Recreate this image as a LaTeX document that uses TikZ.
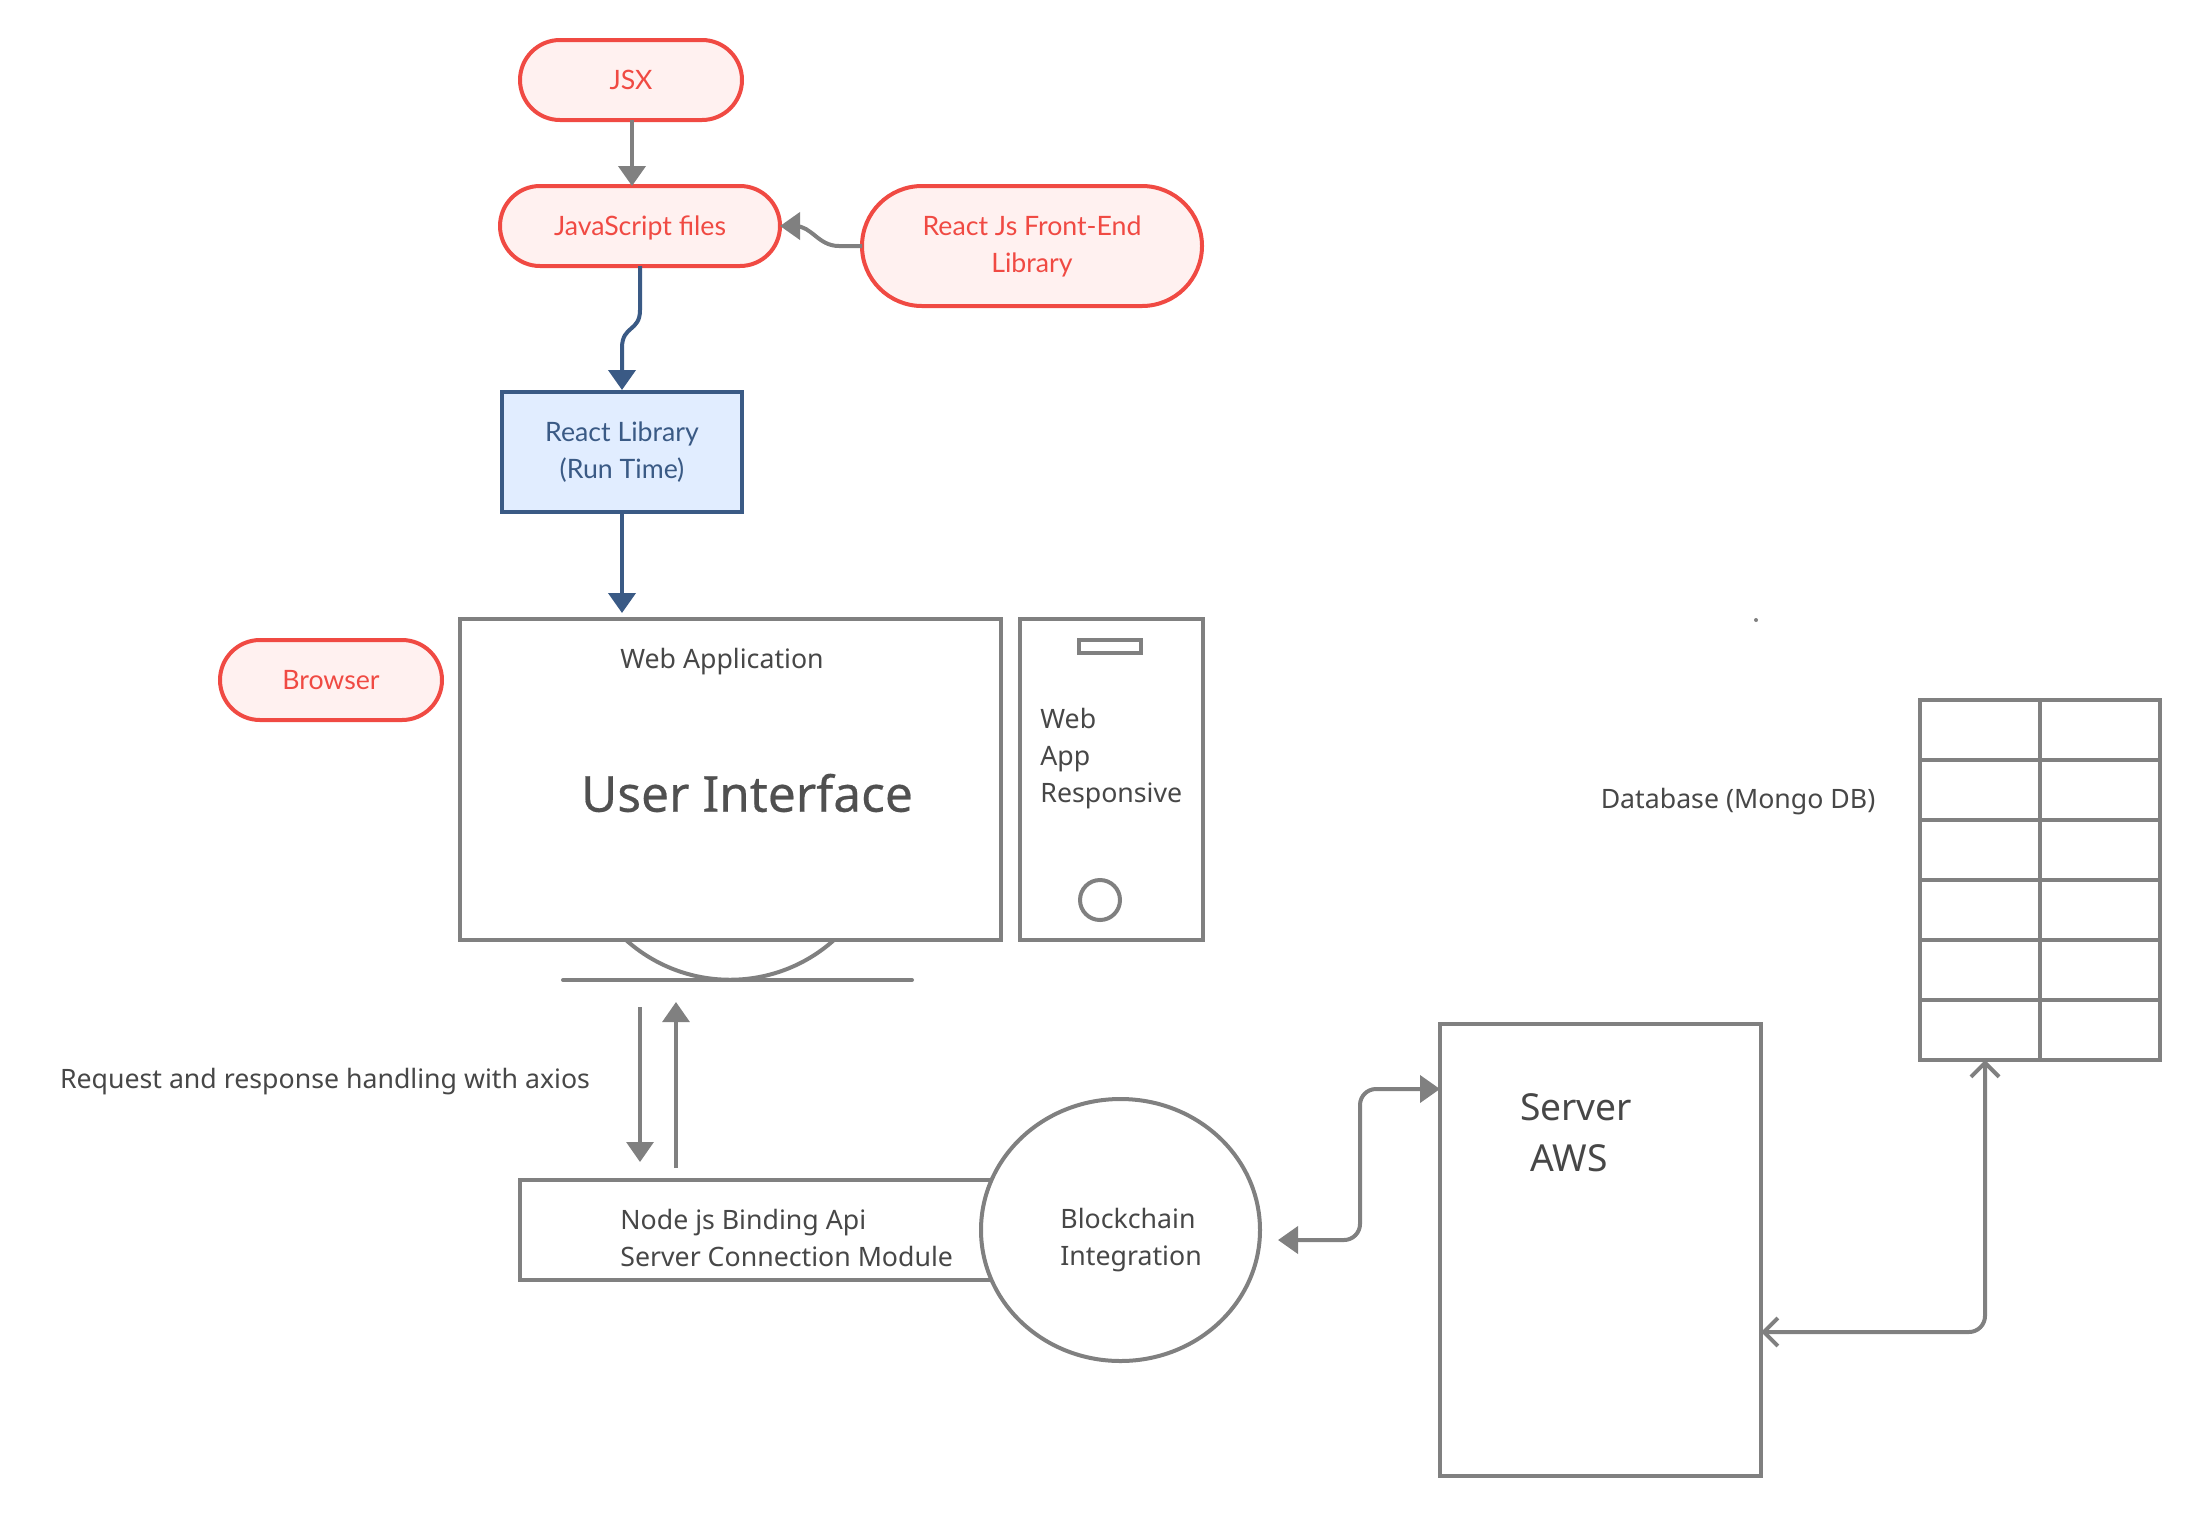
\documentclass[tikz,border=0pt]{standalone}
\usepackage{fontspec}
\setmainfont{Noto Sans}
\newfontfamily\shapefont{Lato}
\usetikzlibrary{arrows.meta, shapes.geometric}
\definecolor{redline}{HTML}{F04A43}
\definecolor{redfill}{HTML}{FFF1F0}
\definecolor{blueline}{HTML}{3A5A85}
\definecolor{bluefill}{HTML}{E1EDFF}
\definecolor{greyline}{HTML}{808080}
\definecolor{greytext}{HTML}{474747}

\begin{document}
\begin{tikzpicture}[x=0.5pt, y=-0.5pt,
					>={Triangle[length=10pt, width=13.5pt]},
					font=\fontsize{13.35}{18.5}\selectfont, text=greytext,
					pill/.style={draw=redline, fill=redfill, text=redline, font=\shapefont\fontsize{13.35}{18.5}\selectfont, line width=2pt, rounded corners=#1, align=center, inner sep=0pt, outer sep=0pt},
					oneline/.style={text height=9.5pt, text depth=0pt},
					blockbox/.style={draw=greyline, fill=white, line width=2pt, inner sep=0pt, outer sep=0pt, align=center},
					greyarrow/.style={draw=greyline, line width=2pt, ->},
					bluearrow/.style={draw=blueline, line width=2pt, ->},
					openarrow/.style={draw=greyline, line width=2pt, rounded corners=8pt, {Straight Barb[length=7pt, width=14pt]}-{Straight Barb[length=7pt, width=14pt]}},
					caption/.style={inner sep=0pt, align=left}]
					\useasboundingbox (0,0) rectangle (2201,1516);
					% Front-end nodes
					\node[pill=20pt, oneline, minimum width=111pt, minimum height=40pt] (jsx) at (631,80) {JSX};
					\node[pill=20pt, oneline, minimum width=140pt, minimum height=40pt] (jsfiles) at (640,226) {JavaScript files};
					\node[pill=30pt, minimum width=170pt, minimum height=60pt] (reactjs) at (1032,246) {React Js Front-End\\Library};
					\node[draw=blueline, fill=bluefill, text=blueline, font=\shapefont\fontsize{13.35}{18.5}\selectfont, line width=2pt, inner sep=0pt, align=center, minimum width=120pt, minimum height=60pt] (library) at (622,452) {React Library\\(Run Time)};
					\node[pill=20pt, oneline, minimum width=111pt, minimum height=40pt] (browser) at (331,680) {Browser};
					% Monitor with stand
					\coordinate (standl) at (626,940);
					\coordinate (standr) at (834,940);
					\coordinate (footl) at (563,980);
					\coordinate (footr) at (912,980);
					\draw[greyline, line width=2pt] (standl) .. controls (685,993) and (775,993) .. (standr);
					\draw[greyline, line width=2pt, line cap=round] (footl) -- (footr);
					\node[blockbox, minimum width=270.5pt, minimum height=160.5pt] (monitor) at (730,779.5) {};
					\node[caption] (webapp) at (722,662) {Web Application};
					\node[caption, text=greytext!95, font=\addfontfeature{FakeBold=0.35}\fontsize{24.8}{30}\selectfont] (ui) at (747,793) {User Interface};
					% Phone
					\node[blockbox, minimum width=91.5pt, minimum height=160.5pt] (phone) at (1111,779.5) {};
					\node[blockbox, minimum width=31pt, minimum height=6.5pt] (speaker) at (1110,646) {};
					\node[blockbox, circle, minimum size=20pt] (button) at (1100,900) {};
					\node[caption, anchor=north west] (phonetext) at (1040,708) {Web\\App\\Responsive};
					% Request and response
					\coordinate (reqtop) at (640,1007);
					\coordinate (reqend) at (640,1162);
					\coordinate (resstart) at (676,1168);
					\coordinate (restop) at (676,1002);
					\node[caption] (axios) at (325,1082) {Request and response handling with axios};
					% Api and blockchain
					\node[blockbox, minimum width=240pt, minimum height=50pt] (api) at (760,1230) {};
					\node[blockbox, ellipse, minimum width=139.5pt, minimum height=131pt] (chain) at (1120.5,1230) {};
					\node[caption, anchor=west] (apitext) at (620,1238) {Node js Binding Api\\Server Connection Module};
					\node[caption, anchor=west] (chaintext) at (1060,1240) {Blockchain\\Integration};
					% Server
					\node[blockbox, minimum width=160.5pt, minimum height=226pt] (server) at (1600,1249.5) {};
					\node[caption, font=\fontsize{18.6}{25}\selectfont] (servertext) at (1576,1107) {Server};
					\node[caption, font=\fontsize{18.6}{25}\selectfont] (awstext) at (1569,1158) {AWS};
					% Database table
					\node[blockbox, minimum width=120pt, minimum height=180pt] (table) at (2039.5,880) {};
					\foreach \y in {760,820,...,1000} \draw[greyline, line width=2pt] (1919,\y) -- (2160,\y);
					\draw[greyline, line width=2pt] (table.north) -- (table.south);
					\node[caption] (dbtext) at (1738,802) {Database (Mongo DB)};
					\node[fill=greyline, circle, inner sep=0pt, minimum size=2pt] (dot) at (1756,620) {};
					% Connectors
					\coordinate (chainport) at (1278,1240);
					\coordinate (serverin) at (1440,1089);
					\coordinate (serverout) at (1761,1332);
					\coordinate (tableport) at (1985,1060);
					\draw[greyarrow] (jsx.south -| 632,0) -- (632,186);
					\draw[greyarrow] (reactjs.west) -- (839,246) .. controls (818,246) and (812,226) .. (795,226) -- (jsfiles.east);
					\draw[bluearrow] (jsfiles.south) -- (640,310) .. controls (640,332) and (622,325) .. (622,348) -- (library.north);
					\draw[bluearrow] (library.south) -- (622,613);
					\draw[greyarrow, line width=1.6pt] (reqtop) -- (reqend);
					\draw[greyarrow, line width=1.6pt] (resstart) -- (restop);
					\draw[greyarrow, rounded corners=8pt, <->] (chainport) -- (1360,1240) -- (1360,1089) -- (serverin);
					\draw[openarrow] (serverout) -- (1985,1332) -- (tableport);
				\end{tikzpicture}
\end{document}
